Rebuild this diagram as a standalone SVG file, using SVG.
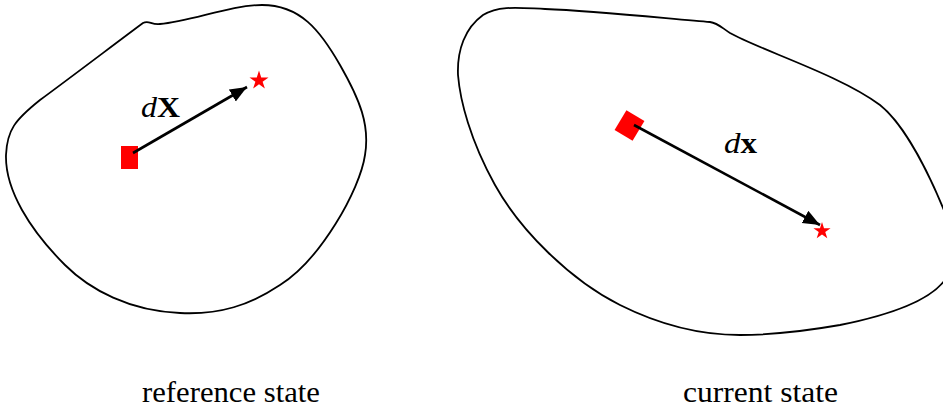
<svg xmlns="http://www.w3.org/2000/svg" width="943" height="411" viewBox="0 0 943 411">
<style>
.body{fill:none;stroke:#000;stroke-width:1.8;stroke-linejoin:round}
.vec{stroke:#000;stroke-width:2.6;fill:none}
.pt{fill:#ff0000}
.lbl{font-family:"Liberation Serif","Times New Roman",serif;font-size:30px;fill:#000}
.cap{font-family:"Liberation Serif","Times New Roman",serif;font-size:29px;fill:#000}
</style>
<defs>
<marker id="ah" markerUnits="userSpaceOnUse" markerWidth="20" markerHeight="16" refX="17" refY="7" orient="auto">
<path d="M0,0 L17,7 L0,14 z" fill="#000"/>
</marker>
<path id="star" d="M0,-10 L2.23,-3.07 L9.51,-3.09 L3.61,1.17 L5.88,8.09 L0,3.8 L-5.88,8.09 L-3.61,1.17 L-9.51,-3.09 L-2.23,-3.07 Z"/>
</defs>
<g id="reference-body">
<path class="body" d="M143,23 C149,20 151,25 160,24 C190,22 230,5 262,5 C300,5 320,30 340,65 C360,100 370,125 365,155 C360,190 320,260 280,285 C250,305 220,315 180,313 C130,311 90,290 65,265 C30,230 5,190 6,155 C7,130 15,120 40,100 C70,78 120,40 143,23 Z"/>
<rect class="pt" x="121" y="146" width="17" height="23"/>
<use href="#star" class="pt" transform="translate(259,80.5)"/>
<text class="lbl" x="141" y="117" textLength="39" lengthAdjust="spacingAndGlyphs"><tspan font-style="italic">d</tspan><tspan font-weight="bold">X</tspan></text>
<text class="cap" x="142" y="402" textLength="178" lengthAdjust="spacingAndGlyphs">reference state</text>
</g>
<g id="current-body">
<path class="body" d="M483,15 C500,5 520,8 545,9 C600,11 680,20 710,22 C718,23 722,28 730,33 C760,50 840,75 880,105 C905,125 930,175 948,220 L948,275 C935,300 890,315 840,325 C800,332 770,335 740,335 C700,335 660,325 620,305 C570,280 520,230 495,185 C470,140 460,100 458,75 C457,50 465,28 483,15 Z"/>
<rect class="pt" x="619" y="114" width="21" height="23" transform="rotate(31 629.5 125.5)"/>
<use href="#star" class="pt" transform="translate(822,231) scale(0.9)"/>
<text class="lbl" x="724" y="153" textLength="33" lengthAdjust="spacingAndGlyphs"><tspan font-style="italic">d</tspan><tspan font-weight="bold">x</tspan></text>
<text class="cap" x="683" y="402" textLength="155" lengthAdjust="spacingAndGlyphs">current state</text>
</g>
<g id="connectors">
<line class="vec" x1="133" y1="153" x2="247" y2="87" marker-end="url(#ah)"/>
<line class="vec" x1="634" y1="125" x2="820" y2="225" marker-end="url(#ah)"/>
</g>
</svg>
